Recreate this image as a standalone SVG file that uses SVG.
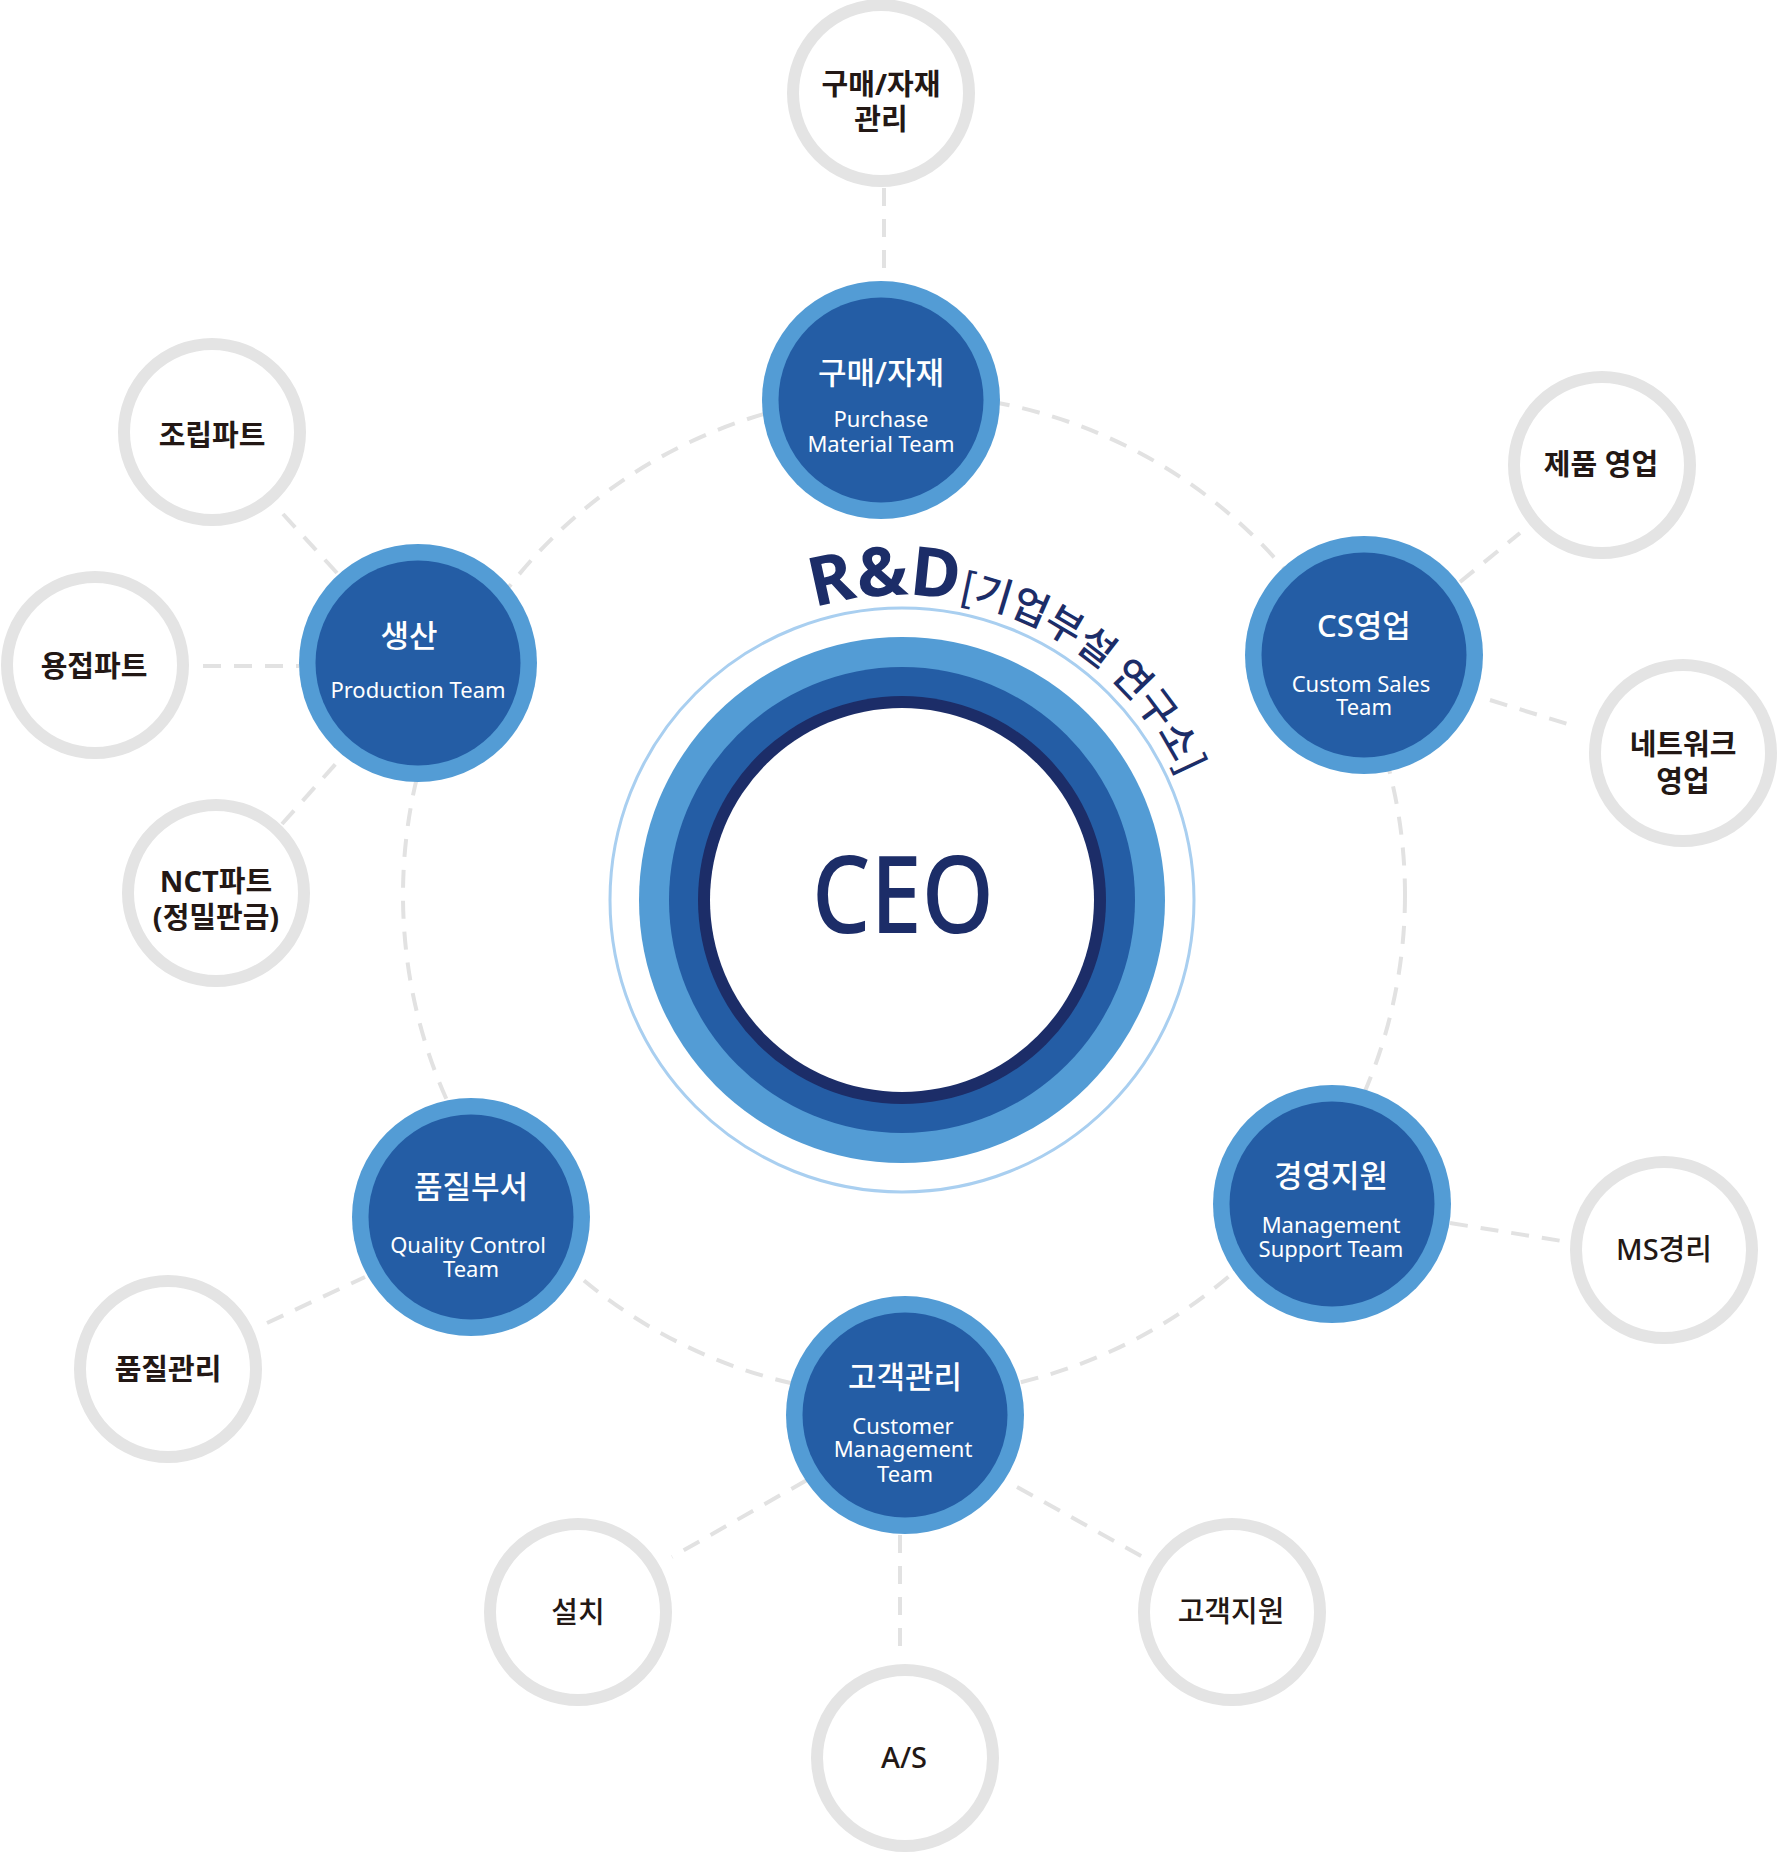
<svg xmlns="http://www.w3.org/2000/svg" width="1777" height="1852" viewBox="0 0 1777 1852">
<defs>
<style>
.dash{fill:none;stroke:#e2e2e2;stroke-width:4;stroke-dasharray:18 13}
.sat{fill:#fff;stroke:#e4e4e4;stroke-width:12}
.outer{fill:#539cd5}
.inner{fill:#245da5}
.title{font-family:"Noto Sans","Noto Sans CJK KR",sans-serif;font-size:31px;font-weight:500;fill:#fff;text-anchor:middle}
.en{font-family:"Noto Sans","Noto Sans CJK KR",sans-serif;font-size:22px;fill:#fff;text-anchor:middle}
.st{font-family:"Noto Sans","Noto Sans CJK KR",sans-serif;font-size:29px;fill:#231815;text-anchor:middle}
.b{font-weight:700}
.m{font-weight:500}
</style>
<path id="arc" d="M 597,900 A 305 305 0 0 1 1207,900"/>
</defs>

<g id="connectors">
<circle class="dash" cx="904" cy="895" r="501"/>
<line class="dash" x1="884" y1="188" x2="884" y2="281"/>
<line class="dash" x1="283" y1="514" x2="337" y2="573"/>
<line class="dash" x1="203" y1="666" x2="299" y2="666"/>
<line class="dash" x1="282" y1="824" x2="340" y2="759"/>
<line class="dash" x1="1460" y1="582" x2="1520" y2="533"/>
<line class="dash" x1="1490" y1="700" x2="1577" y2="727"/>
<line class="dash" x1="1450" y1="1223" x2="1568" y2="1242"/>
<line class="dash" x1="267" y1="1323" x2="365" y2="1277"/>
<line class="dash" x1="807" y1="1480" x2="672" y2="1557"/>
<line class="dash" x1="900" y1="1535" x2="900" y2="1658"/>
<line class="dash" x1="1017" y1="1487" x2="1152" y2="1562"/>
</g>

<g id="ceo">
<circle cx="902" cy="900" r="292" fill="none" stroke="#a9cff0" stroke-width="3"/>
<circle cx="902" cy="900" r="263" fill="#539cd5"/>
<circle cx="902" cy="900" r="233" fill="#245da5"/>
<circle cx="902" cy="900" r="204" fill="#1c2d68"/>
<circle cx="902" cy="900" r="192" fill="#fff"/>
<text x="903" y="933" font-family="Noto Sans, sans-serif" font-size="107" font-weight="500" fill="#1c2d68" text-anchor="middle" textLength="182" lengthAdjust="spacingAndGlyphs">CEO</text>
</g>

<g id="rnd">
<text fill="#1c2d68" font-family="Noto Sans, Noto Sans CJK KR, sans-serif"><textPath href="#arc" startOffset="390"><tspan font-size="68" font-weight="700">R&amp;D</tspan><tspan font-size="40" font-weight="500" font-family="Noto Sans CJK KR, sans-serif">[기업부설 연구소]</tspan></textPath></text>
</g>

<g id="team-purchase">
<circle class="outer" cx="881" cy="400" r="119"/>
<circle class="inner" cx="881" cy="400" r="102.5"/>
<text class="title" x="881" y="384">구매/자재</text>
<text class="en" x="881" y="427">Purchase</text>
<text class="en" x="881" y="452">Material Team</text>
</g>

<g id="team-production">
<circle class="outer" cx="418" cy="663" r="119"/>
<circle class="inner" cx="418" cy="663" r="102.5"/>
<text class="title" x="409" y="647">생산</text>
<text class="en" x="418" y="698">Production Team</text>
</g>

<g id="team-cs">
<circle class="outer" cx="1364" cy="655" r="119"/>
<circle class="inner" cx="1364" cy="655" r="102.5"/>
<text class="title" x="1364" y="637">CS영업</text>
<text class="en" x="1361" y="692">Custom Sales</text>
<text class="en" x="1364" y="715">Team</text>
</g>

<g id="team-management">
<circle class="outer" cx="1332" cy="1204" r="119"/>
<circle class="inner" cx="1332" cy="1204" r="102.5"/>
<text class="title" x="1331" y="1187">경영지원</text>
<text class="en" x="1331" y="1233">Management</text>
<text class="en" x="1331" y="1257">Support Team</text>
</g>

<g id="team-quality">
<circle class="outer" cx="471" cy="1217" r="119"/>
<circle class="inner" cx="471" cy="1217" r="102.5"/>
<text class="title" x="471" y="1198">품질부서</text>
<text class="en" x="468" y="1253">Quality Control</text>
<text class="en" x="471" y="1277">Team</text>
</g>

<g id="team-customer">
<circle class="outer" cx="905" cy="1415" r="119"/>
<circle class="inner" cx="905" cy="1415" r="102.5"/>
<text class="title" x="905" y="1388">고객관리</text>
<text class="en" x="903" y="1434">Customer</text>
<text class="en" x="903" y="1457">Management</text>
<text class="en" x="905" y="1482">Team</text>
</g>

<g id="sat-purchase-mgmt">
<circle class="sat" cx="881" cy="93" r="88"/>
<text class="st b" x="881" y="95">구매/자재</text>
<text class="st b" x="881" y="130">관리</text>
</g>
<g id="sat-assembly">
<circle class="sat" cx="212" cy="432" r="88"/>
<text class="st b" x="212" y="446">조립파트</text>
</g>
<g id="sat-welding">
<circle class="sat" cx="95" cy="665" r="88"/>
<text class="st b" x="94" y="677">용접파트</text>
</g>
<g id="sat-nct">
<circle class="sat" cx="216" cy="893" r="88"/>
<text class="st b" x="216" y="892">NCT파트</text>
<text class="st b" x="216" y="928">(정밀판금)</text>
</g>
<g id="sat-product-sales">
<circle class="sat" cx="1602" cy="465" r="88"/>
<text class="st b" x="1601" y="475">제품 영업</text>
</g>
<g id="sat-network-sales">
<circle class="sat" cx="1683" cy="753" r="88"/>
<text class="st b" x="1683" y="755">네트워크</text>
<text class="st b" x="1683" y="792">영업</text>
</g>
<g id="sat-ms">
<circle class="sat" cx="1664" cy="1250" r="88"/>
<text class="st m" x="1664" y="1260">MS경리</text>
</g>
<g id="sat-qc">
<circle class="sat" cx="168" cy="1369" r="88"/>
<text class="st b" x="168" y="1380">품질관리</text>
</g>
<g id="sat-install">
<circle class="sat" cx="578" cy="1612" r="88"/>
<text class="st m" x="578" y="1623">설치</text>
</g>
<g id="sat-as">
<circle class="sat" cx="905" cy="1758" r="88"/>
<text class="st m" x="904" y="1768">A/S</text>
</g>
<g id="sat-support">
<circle class="sat" cx="1232" cy="1612" r="88"/>
<text class="st m" x="1231" y="1622">고객지원</text>
</g>
</svg>
